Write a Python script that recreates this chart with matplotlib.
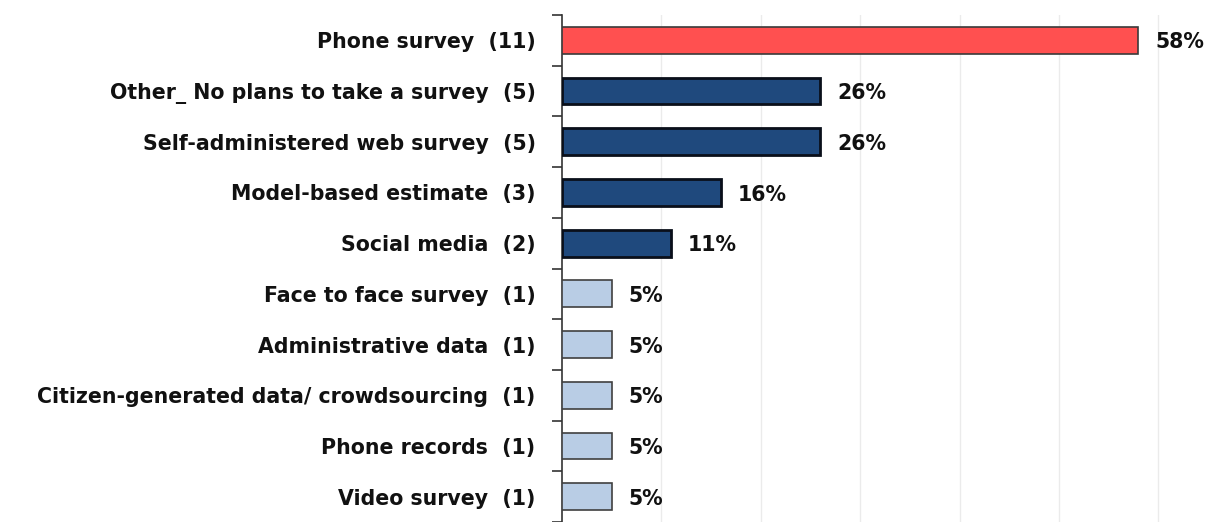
import matplotlib
matplotlib.use("Agg")
import matplotlib.pyplot as plt

categories = [
    "Phone survey  (11)",
    "Other_ No plans to take a survey  (5)",
    "Self-administered web survey  (5)",
    "Model-based estimate  (3)",
    "Social media  (2)",
    "Face to face survey  (1)",
    "Administrative data  (1)",
    "Citizen-generated data/ crowdsourcing  (1)",
    "Phone records  (1)",
    "Video survey  (1)",
]
values = [58, 26, 26, 16, 11, 5, 5, 5, 5, 5]
colors = ["#FF5050"] + ["#1F497D"] * 4 + ["#B9CDE5"] * 5
edges = ["#3A3A3A"] + ["#0A0F1A"] * 4 + ["#404040"] * 5
edge_w = [1.2] + [2.0] * 4 + [1.2] * 5

plt.rcParams["font.family"] = ["DejaVu Sans"]

fig = plt.figure(figsize=(12.08, 5.22), dpi=100)
ax = fig.add_axes([562 / 1208, 0.0, 1 - 562 / 1208, 1 - 15 / 522])

y = list(range(len(categories)))
ax.barh(y, values, height=0.53, color=colors, edgecolor=edges, linewidth=edge_w, zorder=3)
for yi, v in zip(y, values):
    ax.annotate(f"{v}%", (v, yi), xytext=(12, -1.5), textcoords="offset points",
                ha="left", va="center", fontsize=14.8, fontweight="bold", color="#111111")

ax.set_xlim(0, 65)
ax.set_ylim(9.4, -0.5)
ax.set_xticks(range(10, 70, 10))
ax.set_xticklabels([])
ax.tick_params(axis="x", length=0)
ax.grid(axis="x", color="#EBEBEB", linewidth=1.0, zorder=0)

# category boundaries get the tick marks, labels sit on minor ticks at bar centres
ax.set_yticks([i - 0.5 for i in range(len(categories) + 1)], minor=False)
ax.set_yticklabels([])
ax.tick_params(axis="y", which="major", length=7, width=1.2, color="#333333", direction="out")
ax.set_yticks(y, minor=True)
ax.set_yticklabels(categories, minor=True, fontsize=14.8, fontweight="bold", color="#111111")
ax.tick_params(axis="y", which="minor", length=0, pad=19)

for s in ["top", "right", "bottom"]:
    ax.spines[s].set_visible(False)
ax.spines["left"].set_color("#333333")
ax.spines["left"].set_linewidth(1.2)

fig.savefig("out.png", dpi=100)
